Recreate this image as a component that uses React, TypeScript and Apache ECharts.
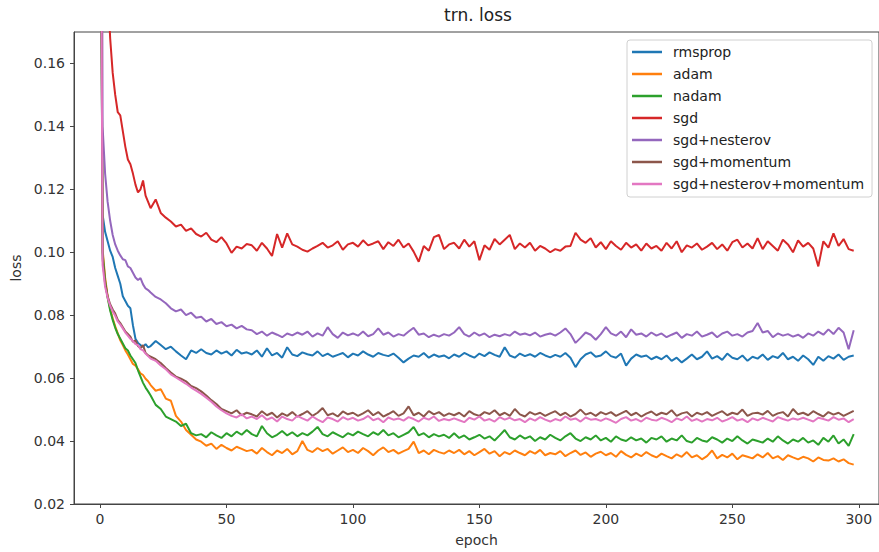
import React, { useEffect, useRef } from "react";
import * as echarts from "echarts";

const chartTitle = "trn. loss";
const xName = "epoch";
const yName = "loss";
const xTicks = [0, 50, 100, 150, 200, 250, 300];
const yTicks = [0.02, 0.04, 0.06, 0.08, 0.1, 0.12, 0.14, 0.16];

const epochs = [
  0, 1, 2, 3, 4, 5, 6, 7, 8, 9,
  10, 11, 12, 13, 14, 15, 16, 17, 18, 19,
  20, 22, 24, 26, 28, 30, 32, 34, 36, 38,
  40, 42, 44, 46, 48, 50, 52, 54, 56, 58,
  60, 62, 64, 66, 68, 70, 72, 74, 76, 78,
  80, 82, 84, 86, 88, 90, 92, 94, 96, 98,
  100, 102, 104, 106, 108, 110, 112, 114, 116, 118,
  120, 122, 124, 126, 128, 130, 132, 134, 136, 138,
  140, 142, 144, 146, 148, 150, 152, 154, 156, 158,
  160, 162, 164, 166, 168, 170, 172, 174, 176, 178,
  180, 182, 184, 186, 188, 190, 192, 194, 196, 198,
  200, 202, 204, 206, 208, 210, 212, 214, 216, 218,
  220, 222, 224, 226, 228, 230, 232, 234, 236, 238,
  240, 242, 244, 246, 248, 250, 252, 254, 256, 258,
  260, 262, 264, 266, 268, 270, 272, 274, 276, 278,
  280, 282, 284, 286, 288, 290, 292, 294, 296, 298,
];

const rmsprop = [
  0.25, 0.112, 0.1065, 0.1035, 0.1005, 0.0985, 0.095, 0.0925, 0.09, 0.086,
  0.0845, 0.083, 0.0822, 0.0768, 0.0725, 0.0712, 0.0705, 0.07, 0.0708, 0.0698,
  0.0702, 0.0718, 0.0705, 0.0692, 0.07, 0.0685, 0.0672, 0.066, 0.0688, 0.068,
  0.0692, 0.068, 0.0675, 0.0688, 0.0678, 0.0685, 0.0672, 0.069, 0.0678, 0.0682,
  0.0675, 0.0688, 0.0668, 0.0695, 0.0672, 0.068, 0.0665, 0.0698, 0.0675, 0.067,
  0.0682, 0.0676, 0.0672, 0.0685, 0.067, 0.0678, 0.0668, 0.0674, 0.068, 0.0666,
  0.0678, 0.0672, 0.0685, 0.0675, 0.0668, 0.068, 0.0674, 0.067, 0.0678, 0.0665,
  0.065, 0.0662, 0.0672, 0.0668, 0.068, 0.0665, 0.0675, 0.0668, 0.0672, 0.0663,
  0.0675, 0.0668, 0.068, 0.0672, 0.0665, 0.0678, 0.067, 0.0682, 0.0674, 0.0668,
  0.0698, 0.0672, 0.0665, 0.0678, 0.067, 0.0676, 0.0668, 0.068, 0.0672, 0.0666,
  0.0674, 0.0668, 0.068, 0.0665, 0.0635, 0.066, 0.0675, 0.0682, 0.0668, 0.0672,
  0.0685, 0.067, 0.0665, 0.0678, 0.064, 0.0662, 0.0675, 0.0668, 0.0672, 0.066,
  0.0668, 0.066, 0.0672, 0.0655, 0.0665, 0.065, 0.0662, 0.0675, 0.066, 0.0668,
  0.0685, 0.0662, 0.067, 0.0658, 0.0678, 0.0665, 0.066, 0.0672, 0.0655, 0.0668,
  0.0662, 0.0675, 0.0658, 0.067, 0.0664, 0.068, 0.066, 0.0668, 0.0655, 0.0672,
  0.066, 0.0642, 0.0668, 0.0655, 0.067, 0.0662, 0.0675, 0.0658, 0.0668, 0.0672,
];

const adam = [
  0.3, 0.101, 0.092, 0.086, 0.082, 0.079, 0.0765, 0.0742, 0.072, 0.0705,
  0.0688, 0.0675, 0.066, 0.0645, 0.064, 0.0628, 0.0615, 0.061, 0.0598, 0.059,
  0.0578, 0.056, 0.0565, 0.0535, 0.0528, 0.048, 0.0462, 0.0435, 0.042, 0.0405,
  0.0398, 0.0385, 0.0392, 0.0375, 0.0388, 0.0378, 0.037, 0.0382, 0.0375, 0.0368,
  0.0372, 0.036, 0.0378, 0.0365, 0.0355, 0.037, 0.0362, 0.0375, 0.0358, 0.0368,
  0.04, 0.0372, 0.0365, 0.0378, 0.0368, 0.0375, 0.036, 0.037, 0.038, 0.0365,
  0.0372, 0.0362, 0.0378, 0.0368, 0.0355, 0.037, 0.038, 0.0365, 0.0372, 0.036,
  0.0368, 0.0375, 0.0398, 0.0362, 0.037, 0.0358, 0.0372, 0.0365, 0.036, 0.037,
  0.0362, 0.0372, 0.0358, 0.0368, 0.0355, 0.0365, 0.0375, 0.036, 0.0368, 0.0352,
  0.0365, 0.0358, 0.037, 0.0362, 0.0355, 0.0368, 0.036, 0.0372, 0.0355, 0.0362,
  0.0358, 0.0368, 0.0352, 0.0362, 0.037, 0.0356, 0.0364, 0.035, 0.036, 0.0366,
  0.0355, 0.0362, 0.035, 0.0368, 0.0356, 0.0348, 0.036, 0.0352, 0.0365, 0.0355,
  0.0348, 0.036, 0.0352, 0.0345, 0.0358, 0.035, 0.0365, 0.0348, 0.0355, 0.0342,
  0.0352, 0.037, 0.0345, 0.0356, 0.0348, 0.036, 0.0342, 0.0355, 0.035, 0.0345,
  0.0358, 0.0348, 0.0362, 0.0345, 0.0352, 0.034, 0.0355, 0.0348, 0.0342, 0.035,
  0.0345, 0.0335, 0.0348, 0.034, 0.0338, 0.0345, 0.0335, 0.0342, 0.033, 0.0325,
];

const nadam = [
  0.28, 0.1, 0.091, 0.0855, 0.0815, 0.0785, 0.076, 0.074, 0.0725, 0.071,
  0.0695, 0.0688, 0.0672, 0.066, 0.0648, 0.0625, 0.0605, 0.0585, 0.057, 0.0558,
  0.0545, 0.0515, 0.0502, 0.0478, 0.047, 0.0462, 0.0448, 0.0455, 0.0425, 0.0418,
  0.0422, 0.0412, 0.0428, 0.0418, 0.041, 0.0425, 0.0415, 0.043, 0.042, 0.0435,
  0.0422, 0.0415, 0.0448, 0.0425, 0.0412, 0.042, 0.0432, 0.0418, 0.0428, 0.0415,
  0.0425, 0.0418, 0.043, 0.0445, 0.0422, 0.0415, 0.0428, 0.042, 0.0412, 0.0425,
  0.0418, 0.043, 0.0422, 0.0415, 0.0428, 0.042, 0.0435, 0.0418, 0.0425, 0.0412,
  0.042, 0.0428, 0.0445, 0.0418, 0.0425, 0.0412, 0.0422, 0.0415, 0.042, 0.041,
  0.0425, 0.041, 0.0418, 0.0405, 0.0412, 0.042, 0.0408, 0.0415, 0.0402, 0.0418,
  0.0435, 0.0412, 0.0405, 0.0418, 0.0408, 0.0415, 0.04, 0.0412, 0.0405, 0.042,
  0.041, 0.0402, 0.0415, 0.0425, 0.0408, 0.04, 0.0412, 0.0405, 0.0418, 0.0402,
  0.041, 0.0398, 0.0415, 0.0405, 0.04, 0.0412, 0.0402, 0.0408, 0.0395, 0.041,
  0.0405, 0.0415, 0.0398, 0.0408, 0.0402, 0.0418, 0.04, 0.0395, 0.041, 0.0402,
  0.0398, 0.0412, 0.0405, 0.0395, 0.0408, 0.04, 0.0415, 0.0402, 0.0392, 0.0405,
  0.04, 0.0395, 0.0408, 0.0398, 0.0415, 0.0402, 0.0392, 0.0405, 0.0398, 0.041,
  0.0395, 0.0402, 0.0388, 0.041, 0.0398, 0.0418, 0.0392, 0.0405, 0.0385, 0.0422,
];

const sgd = [
  0.62, 0.32, 0.22, 0.185, 0.168, 0.157, 0.15, 0.1445, 0.1435, 0.1385,
  0.1335, 0.1295, 0.128, 0.125, 0.1215, 0.119, 0.12, 0.1228, 0.118, 0.116,
  0.114, 0.1168, 0.1125, 0.111, 0.1098, 0.1082, 0.1088, 0.1068, 0.1076, 0.1058,
  0.105, 0.1062, 0.104, 0.1032, 0.1048, 0.1028, 0.0998, 0.1018, 0.1012, 0.1026,
  0.1022, 0.1005, 0.103, 0.1012, 0.0988, 0.1058, 0.1015, 0.106, 0.1025, 0.1018,
  0.1008, 0.1002, 0.1012, 0.102, 0.103, 0.1015, 0.1022, 0.1035, 0.1008, 0.1025,
  0.103, 0.1018, 0.1038, 0.1022, 0.1028, 0.1035, 0.101, 0.1032, 0.102, 0.104,
  0.1015, 0.1028, 0.1002, 0.097, 0.102, 0.1005, 0.1048, 0.1055, 0.101, 0.1025,
  0.103, 0.1012, 0.104, 0.1018, 0.1035, 0.0975, 0.1022, 0.1008, 0.1042, 0.1025,
  0.104, 0.1055, 0.101, 0.1028, 0.1015, 0.103, 0.1005, 0.102, 0.1012, 0.1,
  0.101, 0.1005, 0.1018, 0.102, 0.1062, 0.104, 0.103, 0.1045, 0.1015, 0.1032,
  0.101, 0.1035, 0.102, 0.1008, 0.103, 0.1015, 0.1025, 0.1005, 0.1028, 0.1012,
  0.102, 0.1005, 0.103, 0.1012, 0.1035, 0.1, 0.1022, 0.1015, 0.1028, 0.1008,
  0.1018, 0.103, 0.101, 0.1025, 0.1005, 0.1032, 0.104, 0.1015, 0.1028, 0.1012,
  0.1045, 0.101, 0.1035, 0.102, 0.1005, 0.104, 0.1025, 0.1, 0.1038, 0.1018,
  0.103, 0.1012, 0.0955, 0.1035, 0.1015, 0.106, 0.102, 0.1042, 0.101, 0.1005,
];

const sgdNesterov = [
  0.45, 0.14, 0.125, 0.116, 0.11, 0.1055, 0.1025, 0.1005, 0.099, 0.0978,
  0.0975, 0.0955, 0.095, 0.0935, 0.092, 0.0912, 0.0918, 0.0898, 0.0885, 0.088,
  0.0872, 0.0858, 0.085, 0.0838, 0.0822, 0.0812, 0.0818, 0.08, 0.0808, 0.0792,
  0.0795, 0.078, 0.0788, 0.0772, 0.0778, 0.0765, 0.077, 0.0758, 0.0766, 0.0755,
  0.0752, 0.074, 0.0748, 0.0735, 0.0745, 0.0738, 0.073, 0.0742, 0.0736, 0.0745,
  0.0738, 0.0748, 0.0732, 0.0742, 0.0735, 0.0762, 0.074, 0.0728, 0.0745, 0.0736,
  0.0742, 0.0735, 0.0748, 0.0733, 0.074, 0.0758, 0.0738, 0.0745, 0.0732, 0.074,
  0.0735, 0.0748, 0.076, 0.0738, 0.0742, 0.073, 0.0738, 0.0732, 0.074, 0.0735,
  0.0745, 0.0762, 0.074, 0.0732, 0.0745, 0.0735, 0.0742, 0.073, 0.0738, 0.0733,
  0.074, 0.0735, 0.0748, 0.0738, 0.0742, 0.0736, 0.0745, 0.0732, 0.0738, 0.0742,
  0.0735, 0.0745, 0.0758, 0.074, 0.0712, 0.0728, 0.0745, 0.0738, 0.0722, 0.074,
  0.0762, 0.0742, 0.0735, 0.0748, 0.073, 0.0755, 0.0738, 0.0742, 0.0732, 0.0745,
  0.0735, 0.0742, 0.073, 0.0738, 0.0745, 0.0728, 0.074, 0.0735, 0.0748, 0.0732,
  0.0738, 0.0745, 0.073, 0.0742, 0.0748, 0.0735, 0.074, 0.0732, 0.0745, 0.075,
  0.0775, 0.0745, 0.075, 0.073, 0.0742, 0.0735, 0.074, 0.0732, 0.0738, 0.0728,
  0.0742, 0.0735, 0.0748, 0.0738, 0.0755, 0.074, 0.076, 0.0745, 0.0692, 0.0752,
];

const sgdMomentum = [
  0.3, 0.098, 0.09, 0.086, 0.0835, 0.0818, 0.0805, 0.0785, 0.0775, 0.0762,
  0.0748, 0.074, 0.0732, 0.0715, 0.072, 0.0702, 0.0695, 0.0705, 0.068, 0.0672,
  0.0668, 0.066, 0.0648, 0.0632, 0.0618, 0.0605, 0.0598, 0.059, 0.0575, 0.0568,
  0.0558, 0.0545, 0.053, 0.0518, 0.0502, 0.0495, 0.0488, 0.0498, 0.0482, 0.049,
  0.0485, 0.0478, 0.0495, 0.0482, 0.049, 0.0475, 0.0488, 0.048, 0.0492, 0.0478,
  0.0486, 0.0495, 0.048, 0.049, 0.0505, 0.0482, 0.0488, 0.0478, 0.0494, 0.0485,
  0.049, 0.048, 0.0488, 0.0498, 0.0482, 0.0492, 0.0478, 0.0486, 0.0495, 0.048,
  0.0488, 0.051, 0.0482, 0.049, 0.0478, 0.0495, 0.0485, 0.0492, 0.048, 0.0488,
  0.0482, 0.049, 0.0478, 0.0495, 0.0485, 0.048, 0.0492, 0.0486, 0.0498, 0.0482,
  0.049, 0.048, 0.0502, 0.0485, 0.0478, 0.0492, 0.0484, 0.049, 0.048, 0.0488,
  0.0495, 0.0482, 0.049, 0.0478, 0.0486, 0.05, 0.0484, 0.049, 0.048, 0.0492,
  0.0485, 0.0492, 0.048, 0.0488, 0.0496, 0.0482, 0.049, 0.0478, 0.0487, 0.0494,
  0.0482, 0.049, 0.0485, 0.0498, 0.048, 0.0488, 0.0492, 0.0478, 0.049, 0.0484,
  0.0492, 0.048, 0.0488, 0.0495, 0.0482, 0.049, 0.0485, 0.05, 0.048, 0.0488,
  0.049, 0.0484, 0.0496, 0.048, 0.0488, 0.0492, 0.0478, 0.0502, 0.0485, 0.049,
  0.0482, 0.0495, 0.0486, 0.0478, 0.0492, 0.0484, 0.049, 0.048, 0.0488, 0.0496,
];

const sgdNesterovMomentum = [
  0.3, 0.096, 0.089, 0.0855, 0.083, 0.0812, 0.0798, 0.078, 0.077, 0.0758,
  0.0745, 0.0735, 0.0725, 0.0718, 0.0708, 0.0705, 0.0692, 0.0688, 0.0678, 0.067,
  0.0662, 0.0655, 0.064, 0.0628, 0.0612, 0.0602, 0.0592, 0.0582, 0.057, 0.056,
  0.055, 0.0538, 0.0525, 0.051, 0.0498, 0.0488, 0.048, 0.0475, 0.0485, 0.0472,
  0.0478, 0.047, 0.0482, 0.0468, 0.0475, 0.0462, 0.0478, 0.047, 0.0465, 0.048,
  0.0472, 0.0465, 0.0478, 0.0468, 0.046, 0.0475, 0.047, 0.0462, 0.0476, 0.0468,
  0.0474, 0.0465, 0.047, 0.048, 0.0466, 0.0472, 0.046, 0.0475, 0.0468, 0.0472,
  0.0465, 0.0476, 0.047, 0.0462, 0.0474, 0.0468, 0.0478, 0.0464, 0.047, 0.0466,
  0.0472, 0.0466, 0.046, 0.0474, 0.0468, 0.0478, 0.0465, 0.047, 0.0462, 0.0476,
  0.0468, 0.0474, 0.0466, 0.047, 0.046, 0.0472, 0.0465, 0.0476, 0.0468, 0.0462,
  0.047, 0.0465, 0.0478, 0.0468, 0.0472, 0.0462, 0.0475, 0.0468, 0.047, 0.0464,
  0.0472, 0.0466, 0.0458, 0.047, 0.0476, 0.0465, 0.047, 0.0462, 0.0474, 0.0468,
  0.0465, 0.0474, 0.0468, 0.046, 0.0472, 0.0466, 0.0478, 0.0464, 0.047, 0.0462,
  0.047, 0.0466, 0.0474, 0.0462, 0.0468, 0.0476, 0.0465, 0.047, 0.046, 0.0472,
  0.0466, 0.0474, 0.0468, 0.0462, 0.0476, 0.047, 0.0465, 0.0472, 0.0468, 0.0474,
  0.0468, 0.0462, 0.0474, 0.047, 0.0465, 0.0476, 0.0468, 0.0472, 0.046, 0.047,
];

const seriesNames = [
  "rmsprop",
  "adam",
  "nadam",
  "sgd",
  "sgd+nesterov",
  "sgd+momentum",
  "sgd+nesterov+momentum",
];
const seriesValues = [rmsprop, adam, nadam, sgd, sgdNesterov, sgdMomentum, sgdNesterovMomentum];
const colors = ["#1f77b4", "#ff7f0e", "#2ca02c", "#d62728", "#9467bd", "#8c564b", "#e377c2"];

const FONT = "DejaVu Sans";

export default function App() {
  const ref = useRef<HTMLDivElement>(null);

  useEffect(() => {
    if (!ref.current) return;
    const chart = echarts.init(ref.current, null, { renderer: "svg" });
    const option: any = {
      animation: false,
      backgroundColor: "#ffffff",
      color: colors,
      title: {
        text: chartTitle,
        left: 478,
        top: 6,
        textAlign: "center",
        padding: 0,
        textStyle: { fontFamily: FONT, fontSize: 17, fontWeight: "normal", color: "#222" },
      },
      legend: {
        orient: "vertical",
        left: 627,
        top: 40,
        padding: [4, 8, 5, 5],
        itemGap: 6,
        itemWidth: 30,
        itemHeight: 2.5,
        icon: "rect",
        backgroundColor: "rgba(255,255,255,0.85)",
        borderColor: "#d0d0d0",
        borderWidth: 1,
        borderRadius: 3,
        textStyle: {
          fontFamily: FONT,
          fontSize: 14,
          lineHeight: 16,
          color: "#222",
          padding: [0, 0, 0, 6],
        },
        data: seriesNames,
      },
      grid: {
        left: 74,
        top: 32,
        right: 0,
        bottom: 47,
        show: true,
        borderColor: "#444",
        borderWidth: 1,
        backgroundColor: "transparent",
      },
      xAxis: {
        type: "value",
        min: -10.3,
        max: 308,
        name: xName,
        nameLocation: "middle",
        nameGap: 29,
        nameTextStyle: { fontFamily: FONT, fontSize: 14, color: "#333" },
        axisLine: { show: true, onZero: false, lineStyle: { color: "#444", width: 1 } },
        axisTick: { show: true, length: 4, lineStyle: { color: "#444" }, customValues: xTicks },
        axisLabel: {
          fontFamily: FONT,
          fontSize: 14,
          color: "#333",
          margin: 8,
          customValues: xTicks,
          formatter: (v: number) => String(v),
        },
        splitLine: { show: false },
      },
      yAxis: {
        type: "value",
        min: 0.02,
        max: 0.17,
        name: yName,
        nameLocation: "middle",
        nameGap: 50,
        nameTextStyle: { fontFamily: FONT, fontSize: 14, color: "#333" },
        axisLine: { show: true, onZero: false, lineStyle: { color: "#444", width: 1 } },
        axisTick: { show: true, length: 4, lineStyle: { color: "#444" }, customValues: yTicks },
        axisLabel: {
          fontFamily: FONT,
          fontSize: 14,
          color: "#333",
          margin: 9,
          customValues: yTicks,
          formatter: (v: number) => v.toFixed(2),
        },
        splitLine: { show: false },
      },
      series: seriesNames.map((name, i) => ({
        name,
        type: "line",
        data: epochs.map((e, j) => [e, seriesValues[i][j]]),
        showSymbol: false,
        symbol: "none",
        clip: true,
        lineStyle: { width: 2, color: colors[i] },
        itemStyle: { color: colors[i] },
        z: 2 + i,
      })),
    };
    chart.setOption(option);
    return () => chart.dispose();
  }, []);

  return (
    <div
      ref={ref}
      style={{ position: "absolute", left: 0, top: 0, width: 879, height: 552 }}
    />
  );
}
